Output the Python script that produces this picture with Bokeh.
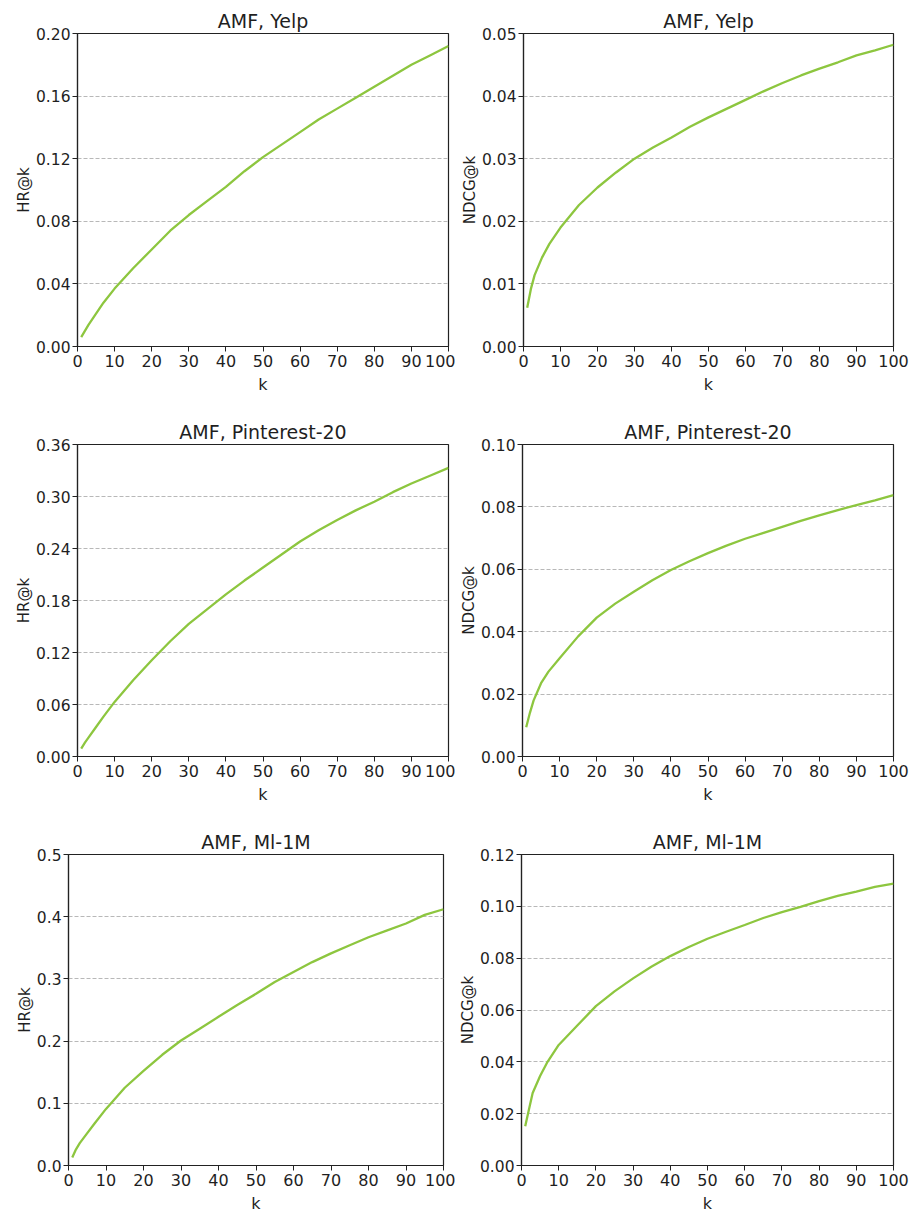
from bokeh.plotting import figure
from bokeh.layouts import column, row
from bokeh.models import Range1d, FixedTicker, PrintfTickFormatter
from bokeh.embed import file_html
from bokeh.resources import INLINE

k = [1, 2, 3, 5, 7, 10, 15, 20, 25, 30, 35, 40, 45, 50, 55, 60, 65, 70, 75, 80, 85, 90, 95, 100]

hr_yelp = [0.006, 0.010, 0.014, 0.021, 0.028, 0.037, 0.050, 0.062, 0.074, 0.084, 0.093, 0.102,
           0.112, 0.121, 0.129, 0.137, 0.145, 0.152, 0.159, 0.166, 0.173, 0.180, 0.186, 0.192]
ndcg_yelp = [0.0062, 0.0092, 0.0114, 0.0142, 0.0164, 0.0190, 0.0226, 0.0254, 0.0278, 0.0300, 0.0318, 0.0334,
             0.0351, 0.0366, 0.0380, 0.0394, 0.0408, 0.0421, 0.0433, 0.0444, 0.0454, 0.0465, 0.0473, 0.0482]
hr_pin = [0.009, 0.016, 0.022, 0.034, 0.046, 0.063, 0.088, 0.111, 0.133, 0.153, 0.170, 0.187,
          0.203, 0.218, 0.233, 0.248, 0.261, 0.273, 0.284, 0.294, 0.305, 0.315, 0.324, 0.333]
ndcg_pin = [0.0094, 0.0140, 0.0180, 0.0235, 0.0272, 0.0315, 0.0385, 0.0445, 0.0490, 0.0528, 0.0565, 0.0598,
            0.0626, 0.0652, 0.0676, 0.0698, 0.0717, 0.0736, 0.0755, 0.0773, 0.0790, 0.0806, 0.0821, 0.0838]
hr_ml = [0.013, 0.026, 0.036, 0.052, 0.068, 0.091, 0.125, 0.152, 0.178, 0.201, 0.220, 0.239,
         0.258, 0.276, 0.295, 0.311, 0.327, 0.341, 0.354, 0.367, 0.378, 0.389, 0.403, 0.412]
ndcg_ml = [0.0151, 0.0216, 0.0280, 0.0345, 0.0400, 0.0465, 0.0540, 0.0615, 0.0672, 0.0722, 0.0768, 0.0808,
           0.0843, 0.0875, 0.0902, 0.0928, 0.0955, 0.0978, 0.0998, 0.1020, 0.1040, 0.1057, 0.1075, 0.1088]

titles = ["AMF, Yelp", "AMF, Yelp", "AMF, Pinterest-20", "AMF, Pinterest-20", "AMF, Ml-1M", "AMF, Ml-1M"]
ylabels = ["HR@k", "NDCG@k", "HR@k", "NDCG@k", "HR@k", "NDCG@k"]
series = [hr_yelp, ndcg_yelp, hr_pin, ndcg_pin, hr_ml, ndcg_ml]
yticks = [
    [0.0, 0.04, 0.08, 0.12, 0.16, 0.20],
    [0.0, 0.01, 0.02, 0.03, 0.04, 0.05],
    [0.0, 0.06, 0.12, 0.18, 0.24, 0.30, 0.36],
    [0.0, 0.02, 0.04, 0.06, 0.08, 0.10],
    [0.0, 0.1, 0.2, 0.3, 0.4, 0.5],
    [0.0, 0.02, 0.04, 0.06, 0.08, 0.10, 0.12],
]
yfmt = ["%.2f", "%.2f", "%.2f", "%.2f", "%.1f", "%.2f"]
xticks = [0, 10, 20, 30, 40, 50, 60, 70, 80, 90, 100]

# layout: (width, height, left, right, top, bottom)
geom = [
    (455, 400, 77, 7, 33, 54),
    (458, 400, 68, 20, 33, 54),
    (455, 410, 77, 7, 44, 54),
    (458, 410, 67, 20, 44, 54),
    (455, 405, 68, 12, 44, 49),
    (458, 405, 62, 20, 44, 49),
]

FONT = "DejaVu Sans"
TXT = "#1f1f1f"
LINE = "#8dc63f"

figs = []
for i in range(6):
    w, h, l, r, t, b = geom[i]
    p = figure(width=w, height=h, output_backend="svg", toolbar_location=None,
               x_range=Range1d(0, 100), y_range=Range1d(0, yticks[i][-1]),
               min_border_left=l, min_border_right=r, min_border_top=t, min_border_bottom=b,
               title=titles[i])
    p.title.text_font = FONT
    p.title.text_font_size = "19px"
    p.title.text_font_style = "normal"
    p.title.align = "center"
    p.title.text_color = TXT
    p.title.standoff = 4
    p.line(k, series[i], line_color=LINE, line_width=2.3)
    p.outline_line_color = "#222222"
    p.outline_line_width = 1.2
    p.outline_line_alpha = 1.0
    p.xgrid.grid_line_color = None
    p.ygrid.grid_line_color = "#b8b8b8"
    p.ygrid.grid_line_dash = "4 2"
    p.ygrid.grid_line_width = 1
    p.ygrid.ticker = FixedTicker(ticks=yticks[i])
    p.xaxis.ticker = FixedTicker(ticks=xticks)
    p.yaxis.ticker = FixedTicker(ticks=yticks[i])
    p.yaxis.formatter = PrintfTickFormatter(format=yfmt[i])
    p.xaxis.axis_label = "k"
    p.yaxis.axis_label = ylabels[i]
    for ax in (p.xaxis, p.yaxis):
        ax.axis_label_text_font = FONT
        ax.axis_label_text_font_style = "normal"
        ax.axis_label_text_color = TXT
        ax.major_label_text_font = FONT
        ax.major_label_text_color = TXT
        ax.axis_line_color = "#222222"
        ax.axis_line_width = 1.2
        ax.major_tick_line_color = "#222222"
        ax.major_tick_out = 5
        ax.major_tick_in = 0
        ax.minor_tick_line_color = None
    p.xaxis.axis_label_text_font_size = "16px"
    p.xaxis.major_label_text_font_size = "16px"
    p.xaxis.major_label_standoff = 3
    p.xaxis.axis_label_standoff = 5
    p.yaxis.axis_label_text_font_size = "15px"
    p.yaxis.major_label_text_font_size = "15.5px"
    p.yaxis.major_label_standoff = 2
    p.yaxis.axis_label_standoff = 0
    figs.append(p)

layout = column(row(figs[0], figs[1]), row(figs[2], figs[3]), row(figs[4], figs[5]))
open("out.html", "w").write(file_html(layout, INLINE))
